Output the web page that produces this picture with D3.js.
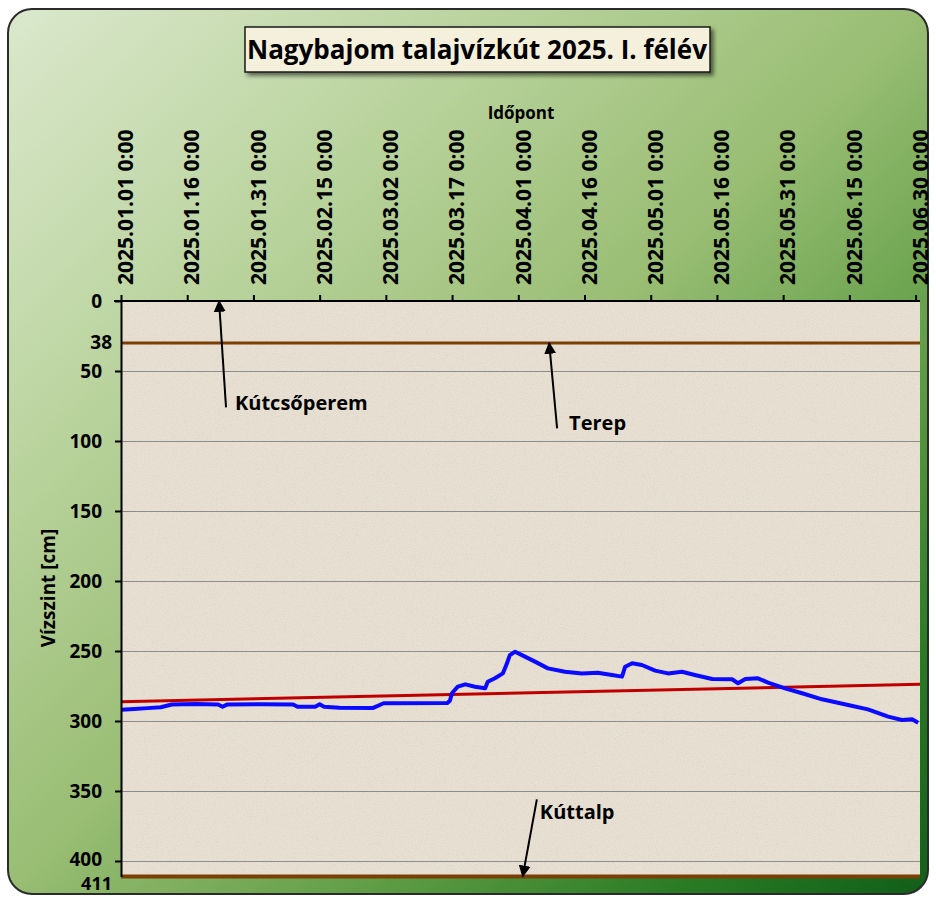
<!DOCTYPE html>
<html lang="hu">
<head>
<meta charset="UTF-8">
<title>Nagybajom talajvízkút 2025. I. félév</title>
<script src="https://cdn.jsdelivr.net/npm/d3@7"></script>
<style>
	body {
		margin: 0;
		background: #fff;
	}
	svg {
		display: block;
		font-family: 'Open Sans', sans-serif;
		font-weight: bold;
	}
</style>
</head>
<body>
<div id="chart"></div>
<script>
// chart texts
var chartTitle = 'Nagybajom talajvízkút 2025. I. félév';
var xTitle = 'Időpont';
var yTitle = 'Vízszint [cm]';

// x tick dates (every 15 days) and y ticks
var xTickDays = ['2025-01-01', '2025-01-16', '2025-01-31', '2025-02-15', '2025-03-02', '2025-03-17',
	'2025-04-01', '2025-04-16', '2025-05-01', '2025-05-16', '2025-05-31', '2025-06-15', '2025-06-30'];
var yTicks = [0, 50, 100, 150, 200, 250, 300, 350, 400];
var xDomain = ['2025-01-01 00', '2025-07-01 00'];
var yDomain = [0, 411];

// reference levels of the well: name, label, level where the line is drawn
var refNames = ['Kútcsőperem', 'Terep', 'Kúttalp'];
var refLabels = ['0', '38', '411'];
var refLevels = [0, 30, 411];

// water level readings
var waterTimes = [
	'2025-01-01 00', '2025-01-04 00', '2025-01-07 00', '2025-01-10 00', '2025-01-12 12', '2025-01-18 00',
	'2025-01-23 00', '2025-01-24 00', '2025-01-25 00', '2025-02-02 00', '2025-02-09 00', '2025-02-10 00',
	'2025-02-14 00', '2025-02-15 00', '2025-02-16 00', '2025-02-19 12', '2025-02-27 00', '2025-03-01 12',
	'2025-03-15 22', '2025-03-16 12', '2025-03-17 00', '2025-03-18 07', '2025-03-20 00', '2025-03-22 05',
	'2025-03-24 12', '2025-03-25 02', '2025-03-26 17', '2025-03-28 12', '2025-03-29 10', '2025-03-30 02',
	'2025-03-31 07', '2025-04-02 12', '2025-04-04 19', '2025-04-07 17', '2025-04-11 14', '2025-04-15 10',
	'2025-04-19 00', '2025-04-22 05', '2025-04-24 12', '2025-04-25 05', '2025-04-26 19', '2025-04-29 00',
	'2025-05-02 00', '2025-05-04 22', '2025-05-08 02', '2025-05-11 00', '2025-05-14 22', '2025-05-19 10',
	'2025-05-20 19', '2025-05-22 10', '2025-05-25 07', '2025-05-27 14', '2025-05-31 10', '2025-06-04 07',
	'2025-06-08 19', '2025-06-14 17', '2025-06-19 05', '2025-06-23 19', '2025-06-26 22', '2025-06-29 05',
	'2025-06-30 14'];
var waterLevels = [
	292.0, 291.5, 290.8, 290.2, 288.2, 287.8,
	288.2, 289.8, 288.3, 288.0, 288.2, 289.8,
	289.8, 288.0, 289.8, 290.6, 290.8, 287.3,
	287.2, 285.5, 280.0, 275.5, 273.8, 275.5,
	276.6, 272.0, 269.5, 266.0, 259.0, 253.0,
	250.5, 254.0, 257.6, 262.4, 264.8, 266.0,
	265.5, 267.1, 268.3, 261.2, 258.8, 260.0,
	264.0, 266.0, 264.8, 267.1, 270.0, 270.2,
	273.0, 270.0, 269.5, 272.6, 276.7, 280.2,
	284.5, 288.6, 291.7, 296.9, 299.3, 298.8,
	301.2];

// linear trend of the readings (start / end of the period)
var trendTimes = ['2025-01-01 00', '2025-07-01 00'];
var trendLevels = [286.2, 273.8];

// arrow anchors of the annotations: tip and tail (time, level)
var arrowTipTimes = ['2025-01-23 05', '2025-04-08 00', '2025-04-02 00'];
var arrowTipLevels = [0, 30, 411];
var arrowTailTimes = ['2025-01-24 19', '2025-04-09 19', '2025-04-05 05'];
var arrowTailLevels = [76, 91, 356];

var W = 936, H = 897;
var margin = {top: 301, right: 16, bottom: 21, left: 121};
var width = W - margin.left - margin.right;
var height = 411 * 1.4;

var parseTime = d3.timeParse('%Y-%m-%d %H');
var parseDay = d3.timeParse('%Y-%m-%d');

var x = d3.scaleTime()
	.domain(xDomain.map(parseTime))
	.range([0, width]);

var y = d3.scaleLinear()
	.domain(yDomain)
	.range([0, height]);

var svg = d3.select('#chart').append('svg')
	.attr('width', W)
	.attr('height', H);

var defs = svg.append('defs');

var grad = defs.append('linearGradient')
	.attr('id', 'bg')
	.attr('x1', 0).attr('y1', 0)
	.attr('x2', 1).attr('y2', 1);
[['0', '#dbe8cd'], ['0.28', '#b8d29b'], ['0.5', '#98bd73'], ['0.7', '#5e9c44'], ['0.86', '#2b7b25'], ['1', '#115e19']]
	.forEach(function (s) {
		grad.append('stop').attr('offset', s[0]).attr('stop-color', s[1]);
	});

// speckled paper look of the plot area
var noise = defs.append('filter').attr('id', 'speckle')
	.attr('x', 0).attr('y', 0).attr('width', 1).attr('height', 1);
noise.append('feTurbulence')
	.attr('type', 'fractalNoise')
	.attr('baseFrequency', 0.9)
	.attr('numOctaves', 2)
	.attr('seed', 3)
	.attr('result', 'n');
noise.append('feColorMatrix')
	.attr('in', 'n')
	.attr('type', 'matrix')
	.attr('values', '0 0 0 0 0.55  0 0 0 0 0.5  0 0 0 0 0.42  0 0 0 -1.6 0.95');

var shadow = defs.append('filter').attr('id', 'shadow')
	.attr('x', '-5%').attr('y', '-20%').attr('width', '115%').attr('height', '160%');
shadow.append('feDropShadow')
	.attr('dx', 3).attr('dy', 3)
	.attr('stdDeviation', 2)
	.attr('flood-color', '#000')
	.attr('flood-opacity', 0.55);

defs.append('clipPath').attr('id', 'plot-clip')
	.append('rect')
	.attr('width', width)
	.attr('height', height);

var arrowHead = defs.append('marker')
	.attr('id', 'arrow')
	.attr('viewBox', '0 0 10 10')
	.attr('refX', 9).attr('refY', 5)
	.attr('markerWidth', 6).attr('markerHeight', 7)
	.attr('markerUnits', 'strokeWidth')
	.attr('orient', 'auto');
arrowHead.append('path')
	.attr('d', 'M0,0 L10,5 L0,10 Z')
	.style('fill', '#000');

// outer frame
svg.append('rect')
	.attr('x', 8).attr('y', 9)
	.attr('width', W - 16).attr('height', H - 12)
	.attr('rx', 24)
	.style('fill', 'url(#bg)')
	.style('stroke', '#2b2b2b')
	.style('stroke-width', 2);

// title box
var titleG = svg.append('g');
titleG.append('rect')
	.attr('x', 245).attr('y', 27)
	.attr('width', 465).attr('height', 45)
	.style('fill', '#f5f0dc')
	.style('stroke', '#1a1a1a')
	.style('stroke-width', 1.5)
	.attr('filter', 'url(#shadow)');
titleG.append('text')
	.attr('x', 477).attr('y', 50)
	.attr('dy', '0.35em')
	.style('text-anchor', 'middle')
	.style('font-size', '26px')
	.style('fill', '#000')
	.text(chartTitle);

var g = svg.append('g')
	.attr('transform', 'translate(' + margin.left + ',' + margin.top + ')');

g.append('rect')
	.attr('width', width)
	.attr('height', height)
	.style('fill', '#e8e0d3');
g.append('rect')
	.attr('width', width)
	.attr('height', height)
	.attr('filter', 'url(#speckle)')
	.style('opacity', 0.35);

// gridlines
g.selectAll('.grid')
	.data(yTicks.filter(function (d) { return d > 0; }))
	.enter().append('line')
	.attr('class', 'grid')
	.attr('x1', 0).attr('x2', width)
	.attr('y1', function (d) { return Math.round(y(d)) + 0.5; })
	.attr('y2', function (d) { return Math.round(y(d)) + 0.5; })
	.style('stroke', '#8c8c8c')
	.style('stroke-width', 1);

// ground level and well bottom
g.selectAll('.ref')
	.data(refLevels.slice(1))
	.enter().append('line')
	.attr('class', 'ref')
	.attr('x1', 0).attr('x2', width)
	.attr('y1', function (d) { return y(d); })
	.attr('y2', function (d) { return y(d); })
	.style('stroke', '#7b3f06')
	.style('stroke-width', function (d, i) { return i === 0 ? 3 : 4; });

var plot = g.append('g').attr('clip-path', 'url(#plot-clip)');

var line = d3.line()
	.x(function (d) { return x(d[0]); })
	.y(function (d) { return y(d[1]); });

plot.append('path')
	.datum(trendTimes.map(function (t, i) { return [parseTime(t), trendLevels[i]]; }))
	.attr('d', line)
	.style('fill', 'none')
	.style('stroke', '#c00000')
	.style('stroke-width', 3);

plot.append('path')
	.datum(waterTimes.map(function (t, i) { return [parseTime(t), waterLevels[i]]; }))
	.attr('d', line)
	.style('fill', 'none')
	.style('stroke', '#0a0aff')
	.style('stroke-width', 4)
	.style('stroke-linejoin', 'round');

// axes
var xAxis = d3.axisTop(x)
	.tickValues(xTickDays.map(parseDay))
	.tickFormat(d3.timeFormat('%Y.%m.%d %-H:%M'))
	.tickSize(6)
	.tickSizeOuter(0);

var gx = g.append('g').call(xAxis);
gx.select('.domain').attr('d', 'M-7,0H' + width).style('stroke', '#000').style('stroke-width', 2);
gx.selectAll('.tick line').style('stroke', '#000').style('stroke-width', 2);
gx.selectAll('.tick text')
	.attr('transform', 'rotate(-90)')
	.attr('x', 16)
	.attr('y', 0)
	.attr('dy', '0.56em')
	.style('text-anchor', 'start')
	.style('font-size', '21px')
	.style('font-family', "'Open Sans', sans-serif")
	.style('font-weight', 'bold')
	.style('fill', '#000');

var yAxis = d3.axisLeft(y)
	.tickValues(yTicks)
	.tickSize(6)
	.tickPadding(13)
	.tickSizeOuter(0);

var gy = g.append('g').call(yAxis);
gy.select('.domain').style('stroke', '#000').style('stroke-width', 2);
gy.selectAll('.tick line').style('stroke', '#000').style('stroke-width', 2);
gy.selectAll('.tick text')
	.style('font-size', '19px')
	.style('font-family', "'Open Sans', sans-serif")
	.style('font-weight', 'bold')
	.style('fill', '#000');
// the 400 label sits a little higher to leave room for 411 below it
gy.selectAll('.tick text')
	.filter(function (d) { return d === 400; })
	.attr('dy', '0.22em');

// labels of the reference levels below the rim
g.selectAll('.ref-label')
	.data(refLevels.slice(1))
	.enter().append('text')
	.attr('class', 'ref-label')
	.attr('x', -9)
	.attr('y', function (d) { return y(d); })
	.attr('dy', function (d, i) { return i === 0 ? '0.33em' : '0.74em'; })
	.style('text-anchor', 'end')
	.style('font-size', function (d, i) { return i === 0 ? '19px' : '18px'; })
	.text(function (d, i) { return refLabels[i + 1]; });

// annotations with arrows (text offset from the arrow tail)
var labelOffsets = [[9, 3], [12, 2], [3, 20]];
refNames.forEach(function (name, i) {
	var tx = x(parseTime(arrowTailTimes[i])), ty = y(arrowTailLevels[i]);
	var hx = x(parseTime(arrowTipTimes[i])), hy = y(arrowTipLevels[i]);
	g.append('line')
		.attr('x1', tx).attr('y1', ty)
		.attr('x2', hx).attr('y2', hy)
		.style('stroke', '#000')
		.style('stroke-width', 2)
		.attr('marker-end', 'url(#arrow)');
	g.append('text')
		.attr('x', tx + labelOffsets[i][0])
		.attr('y', ty + labelOffsets[i][1])
		.style('font-size', '20px')
		.style('fill', '#000')
		.text(name);
});

// axis titles
svg.append('text')
	.attr('x', 521).attr('y', 113)
	.attr('dy', '0.35em')
	.style('text-anchor', 'middle')
	.style('font-size', '17px')
	.text(xTitle);

svg.append('text')
	.attr('transform', 'translate(48,' + 588 + ') rotate(-90)')
	.attr('dy', '0.35em')
	.style('text-anchor', 'middle')
	.style('font-size', '19px')
	.text(yTitle);
</script>
</body>
</html>
